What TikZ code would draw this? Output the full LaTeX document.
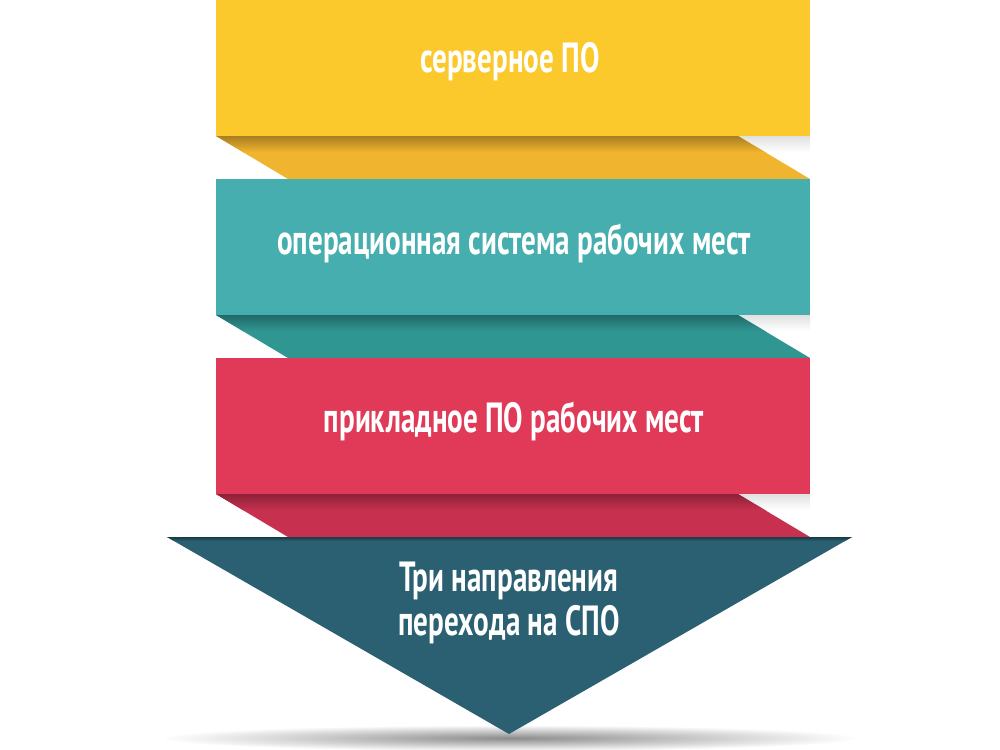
\documentclass[tikz,border=0pt]{standalone}
\usepackage{fontspec}
\setmainfont{PT Sans}[FakeStretch=0.69]
\usepackage{xcolor}
\usetikzlibrary{positioning}

\definecolor{yellowtop}{HTML}{FBC92C}
\definecolor{yellowband}{HTML}{F0B42E}
\definecolor{tealtop}{HTML}{46AEAF}
\definecolor{tealband}{HTML}{2F9692}
\definecolor{redtop}{HTML}{E13A58}
\definecolor{redband}{HTML}{C7304F}
\definecolor{navytip}{HTML}{2B6072}

\tikzset{
  layer text/.style={text=white, font=\bfseries\fontsize{24}{24}\selectfont, align=center},
}

\begin{document}
\begin{tikzpicture}[x=0.02cm,y=-0.02cm]
\useasboundingbox (0,0) rectangle (1000,750);

% shadow under the arrow
\shade[inner color=black!45, outer color=white] (510,738) ellipse (350 and 13);

% light shadows right of the bands
\shade[top color=black!12, bottom color=white] (738,136) rectangle (810,152);
\shade[top color=black!12, bottom color=white] (738,315) rectangle (810,331);
\shade[top color=black!12, bottom color=white] (738,494) rectangle (810,510);

% bands
\begin{scope}
\clip (216,136) -- (738,136) -- (810,179) -- (288,179) -- cycle;
\fill[yellowband] (216,136) rectangle (810,179);
\shade[top color=yellowband!70!black, bottom color=yellowband] (216,136) rectangle (810,152);
\end{scope}
\begin{scope}
\clip (216,315) -- (738,315) -- (810,358) -- (288,358) -- cycle;
\fill[tealband] (216,315) rectangle (810,358);
\shade[top color=tealband!70!black, bottom color=tealband] (216,315) rectangle (810,331);
\end{scope}
\begin{scope}
\clip (216,494) -- (738,494) -- (810,537) -- (288,537) -- cycle;
\fill[redband] (216,494) rectangle (810,537);
\shade[top color=redband!70!black, bottom color=redband] (216,494) rectangle (810,510);
\end{scope}

% layers
\fill[yellowtop] (216,0) rectangle (810,136);
\node[layer text] (server) at (510,62) {серверное ПО};
\fill[tealtop] (216,179) rectangle (810,315);
\node[layer text] (osys) at (514,243) {операционная система рабочих мест};
\fill[redtop] (216,358) rectangle (810,494);
\node[layer text] (apps) at (514,421) {прикладное ПО рабочих мест};

% arrow
\fill[navytip] (167,537) -- (852,537) -- (509,734) -- cycle;
\shade[top color=navytip!60!black, bottom color=navytip] (167,537) -- (852,537) -- (845,541) -- (174,541) -- cycle;
\node[layer text] (goal) at (509,603) {Три направления\\[0.05em]перехода на СПО};
\end{tikzpicture}
\end{document}
